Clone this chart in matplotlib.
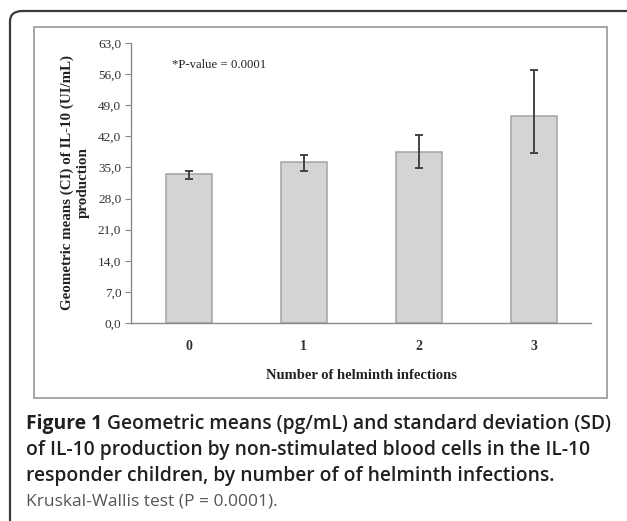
import matplotlib
matplotlib.use("Agg")
import matplotlib.pyplot as plt
from matplotlib.patches import FancyBboxPatch, Rectangle
from matplotlib.ticker import FuncFormatter

infections = ["0", "1", "2", "3"]
geo_means = [33.5, 36.2, 38.5, 46.6]
ci_low = [32.4, 34.3, 34.9, 38.3]
ci_high = [34.3, 37.8, 42.2, 56.9]
y_ticks = [0, 7, 14, 21, 28, 35, 42, 49, 56, 63]

W, H = 627, 521
fig = plt.figure(figsize=(W / 100, H / 100), dpi=100)

serif = ["Liberation Serif", "DejaVu Serif"]
sans = ["Open Sans", "DejaVu Sans"]

# outer rounded frame (runs off the right and bottom edges)
fig.add_artist(FancyBboxPatch((10 / W, -30 / H), 700 / W, (H - 11 + 30) / H,
                              boxstyle="round,pad=0,rounding_size=0.02",
                              transform=fig.transFigure, fill=False,
                              edgecolor="#3a3a3a", linewidth=1.6))
# inner chart frame
fig.add_artist(Rectangle((34 / W, (H - 398) / H), (607 - 34) / W, (398 - 27) / H,
                         transform=fig.transFigure, fill=False,
                         edgecolor="#a6a6a6", linewidth=1.4))

ax = fig.add_axes([131 / W, (H - 323) / H, (591 - 131) / W, (323 - 43) / H])
x = list(range(len(infections)))
yerr = [[m - lo for m, lo in zip(geo_means, ci_low)],
        [hi - m for m, hi in zip(geo_means, ci_high)]]
ax.bar(x, geo_means, width=0.4, color="#d4d4d4", edgecolor="#a3a3a3", linewidth=1.1)
ax.errorbar(x, geo_means, yerr=yerr, fmt="none", ecolor="#444444",
            elinewidth=1.4, capsize=3, capthick=1.4)

ax.set_xlim(-0.5, 3.5)
ax.set_ylim(0, 63)
ax.set_yticks(y_ticks)
ax.yaxis.set_major_formatter(FuncFormatter(lambda v, p: f"{v:.1f}".replace(".", ",")))
ax.set_xticks(x)
ax.set_xticklabels(infections, fontfamily=serif, fontweight="bold", fontsize=10, color="#333333")
for lab in ax.get_yticklabels():
    lab.set_fontfamily(serif)
    lab.set_fontsize(9.5)
    lab.set_color("#333333")
ax.tick_params(axis="y", length=4, width=0.8, color="#888888", pad=3)
ax.tick_params(axis="x", length=0, pad=12)
for s in ["top", "right"]:
    ax.spines[s].set_visible(False)
for s in ["left", "bottom"]:
    ax.spines[s].set_color("#8a8a8a")
    ax.spines[s].set_linewidth(1.0)

ax.set_xlabel("Number of helminth infections", fontfamily=serif, fontweight="bold",
              fontsize=10.5, color="#222222", labelpad=12)
fig.text(75 / W, (H - 183) / H, "Geometric means (CI) of IL-10 (UI/mL)\nproduction",
         fontfamily=serif, fontweight="bold", fontsize=10.8, color="#222222",
         rotation=90, ha="center", va="center", multialignment="center",
         linespacing=1.22)
fig.text(172 / W, (H - 65) / H, "*P-value = 0.0001", fontfamily=serif, fontsize=9.2,
         color="#222222", va="center", ha="left")

# caption
cap_color = "#231f20"
fig.canvas.draw()
r = fig.canvas.get_renderer()
line_y = [424, 450, 476]
t = fig.text(26 / W, (H - line_y[0]) / H, "Figure 1", fontfamily=sans, fontweight="bold",
             fontsize=13.9, color=cap_color, va="center", ha="left")
bb = t.get_window_extent(r)
fig.text((bb.x1 + 5) / W, (H - line_y[0]) / H,
         "Geometric means (pg/mL) and standard deviation (SD)", fontfamily=sans,
         fontweight="semibold", fontsize=13.9, color=cap_color, va="center", ha="left")
fig.text(26 / W, (H - line_y[1]) / H,
         "of IL-10 production by non-stimulated blood cells in the IL-10",
         fontfamily=sans, fontweight="semibold", fontsize=13.9, color=cap_color,
         va="center", ha="left")
fig.text(26 / W, (H - line_y[2]) / H,
         "responder children, by number of of helminth infections.",
         fontfamily=sans, fontweight="semibold", fontsize=13.9, color=cap_color,
         va="center", ha="left")
fig.text(26 / W, (H - 501) / H, "Kruskal-Wallis test (P = 0.0001).", fontfamily=sans,
         fontsize=12.5, color="#555555", va="center", ha="left")

fig.savefig("out.png", dpi=100)
